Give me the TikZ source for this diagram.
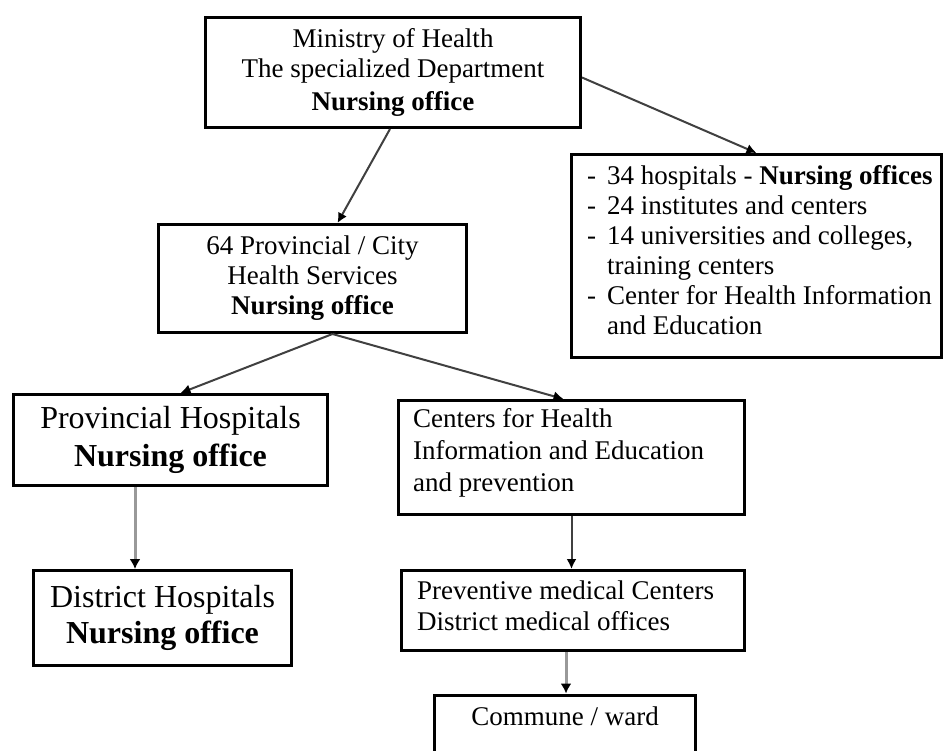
\documentclass[tikz,border=0pt]{standalone}
\usepackage{fontspec}
\setmainfont{Liberation Serif}
\usetikzlibrary{arrows.meta}
\begin{document}
\begin{tikzpicture}[x=1pt,y=-1pt,
  box/.style={draw, line width=3pt, inner sep=0pt, align=center, font=\fontsize{27}{30}\selectfont},
  bigbox/.style={box, font=\fontsize{32}{38}\selectfont},
  txt/.style={inner sep=0pt, anchor=base west, font=\fontsize{27}{30}\selectfont},
  arr/.style={draw=black!75, line width=2pt, -{Latex[length=10pt,width=10pt,color=black]}},
  garr/.style={draw=black!40, line width=3pt, -{Latex[length=10pt,width=11pt,fill=black,color=black]}}
]
\useasboundingbox (0,0) rectangle (945,750);
\fill[white] (0,0) rectangle (945,750);
\clip (0,0) rectangle (945,750);

% boxes
\node[box, minimum width=375pt, minimum height=110pt] (b1) at (393,72.5)
  {Ministry of Health\\The specialized Department\\[3pt]\textbf{Nursing office}};
\node[box, minimum width=370pt, minimum height=203pt] (b2) at (756.5,256) {};
\node[txt] (t2) at (587,184) {\begin{tabular}[t]{@{}p{20pt}@{}l@{}}
  - & 34 hospitals - \textbf{Nursing offices}\\
  - & 24 institutes and centers\\
  - & 14 universities and colleges,\\
    & training centers\\
  - & Center for Health Information\\
    & and Education
\end{tabular}};

\node[box, minimum width=308pt, minimum height=108pt] (b3) at (312.5,278.5)
  {64 Provincial / City\\Health Services\\\textbf{Nursing office}};

\node[bigbox, minimum width=314pt, minimum height=91pt] (b4) at (170.5,440)
  {Provincial Hospitals\\\textbf{Nursing office}};
\node[bigbox, minimum width=258pt, minimum height=95pt] (b5) at (162.5,618)
  {District Hospitals\\[-2pt]\textbf{Nursing office}};

\node[box, minimum width=346pt, minimum height=114pt] (b6) at (571.5,457.5) {};
\node[txt, font=\fontsize{27}{32}\selectfont] (t6) at (413,427) {\begin{tabular}[t]{@{}l@{}}
  Centers for Health\\ Information and Education\\ and prevention
\end{tabular}};

\node[box, minimum width=343pt, minimum height=80pt] (b7) at (573,610.5) {};
\node[txt, font=\fontsize{27}{31}\selectfont] (t7) at (417,599) {\begin{tabular}[t]{@{}l@{}}
  Preventive medical Centers\\ District medical offices
\end{tabular}};

\node[box, minimum width=261pt, minimum height=86pt, anchor=north] (b8) at (565,693.5) {};
\node[txt, anchor=base] (t8) at (565,725) {Commune / ward};

% connectors
\draw[arr] ([yshift=-5pt]b1.east) -- (b2.north);
\draw[arr] ([xshift=-3pt]b1.south) -- ([xshift=25pt]b3.north);
\draw[arr] ([xshift=20pt]b3.south) -- ([xshift=10pt]b4.north);
\draw[arr] ([xshift=20pt]b3.south) -- ([xshift=-8pt]b6.north);
\draw[garr] ([xshift=-35.5pt]b4.south) -- ([xshift=-35.5pt]b4.south |- b5.north);
\draw[arr] (b6.south) -- (b6.south |- b7.north);
\draw[garr] ([xshift=-7pt]b7.south) -- ([xshift=-7pt]b7.south |- b8.north);
\end{tikzpicture}
\end{document}
